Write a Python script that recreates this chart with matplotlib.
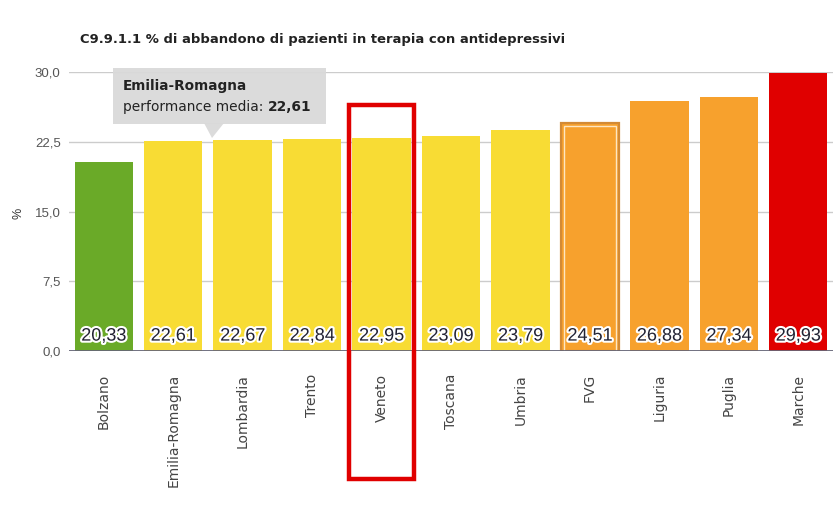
import matplotlib
matplotlib.use("Agg")
import matplotlib.pyplot as plt
import matplotlib.patheffects as pe
from matplotlib.patches import Rectangle, FancyBboxPatch, Polygon

plt.rcParams['font.family'] = ['Liberation Sans', 'DejaVu Sans']

regions = ["Bolzano", "Emilia-Romagna", "Lombardia", "Trento", "Veneto", "Toscana",
           "Umbria", "FVG", "Liguria", "Puglia", "Marche"]
values = [20.33, 22.61, 22.67, 22.84, 22.95, 23.09, 23.79, 24.51, 26.88, 27.34, 29.93]
colors = ["#6aaa28", "#f8dc34", "#f8dc34", "#f8dc34", "#f8dc34", "#f8dc34",
          "#f8dc34", "#f7a12d", "#f7a12d", "#f7a12d", "#e00000"]
labels = ["20,33", "22,61", "22,67", "22,84", "22,95", "23,09", "23,79", "24,51",
          "26,88", "27,34", "29,93"]
yticks = [0, 7.5, 15, 22.5, 30]
ytick_labels = ["0,0", "7,5", "15,0", "22,5", "30,0"]
title = "C9.9.1.1 % di abbandono di pazienti in terapia con antidepressivi"
highlight = "Veneto"
selected = "FVG"
tip_name = "Emilia-Romagna"
tip_label = "performance media: "
tip_value = "22,61"

W, H = 833, 513
fig = plt.figure(figsize=(W / 100, H / 100), dpi=100)
renderer = fig.canvas.get_renderer()

def fx(x):
    return x / W

def fy(y):
    return 1 - y / H

def fit(t, target_px):
    ext = t.get_window_extent(renderer)
    t.set_fontsize(t.get_fontsize() * target_px / ext.width)
    return t

ax = fig.add_axes([fx(69), fy(351), fx(833) - fx(69), fy(72) - fy(351)])
ax.set_xlim(-0.5, len(regions) - 0.5)
ax.set_ylim(0, 30)

for yv in yticks[1:]:
    ax.axhline(yv, color="#cccccc", lw=1, zorder=0)

x = list(range(len(regions)))
ax.bar(x, values, width=0.84, color=colors, zorder=2)

si = regions.index(selected)
ax.bar(si, values[si], width=0.84, color=colors[si], edgecolor="#d38a35", lw=1.6, zorder=3)
ax.bar(si, values[si] - 0.35, width=0.76, color="none", edgecolor="#fde6c2", lw=1.0, zorder=4)

ax.axhline(0, color="#667", lw=1.3, zorder=5)

for xi, lab in zip(x, labels):
    ax.text(xi, 1.6, lab, ha="center", va="center", fontsize=13, color="#222233",
            zorder=6, path_effects=[pe.withStroke(linewidth=3, foreground="white")])

ax.set_yticks(yticks)
ax.set_yticklabels(ytick_labels, fontsize=9.5, color="#555555")
ax.set_xticks(x)
ax.set_xticklabels(regions, rotation=90, fontsize=10, color="#444444",
                   family="DejaVu Sans")
ax.tick_params(axis="y", length=0, pad=6)
ax.tick_params(axis="x", length=0, pad=16.5)
for s in ax.spines.values():
    s.set_visible(False)

tt = fig.text(fx(80), fy(40), title, fontsize=10, fontweight="bold", color="#222222",
              ha="left", va="center", family="DejaVu Sans")
fit(tt, 485)
fig.text(fx(18), fy(213), "%", fontsize=9, color="#333333", rotation=90,
         ha="center", va="center")

# tooltip
tip = FancyBboxPatch((fx(113), fy(124)), fx(326) - fx(113), fy(68) - fy(124),
                     boxstyle="square,pad=0", transform=fig.transFigure,
                     facecolor="#d9d9d9", edgecolor="none", alpha=0.95, zorder=10)
fig.add_artist(tip)
ptr = Polygon([(fx(204), fy(123)), (fx(224), fy(123)), (fx(212), fy(138))],
              closed=True, transform=fig.transFigure, facecolor="#d9d9d9",
              edgecolor="none", alpha=0.95, zorder=10)
fig.add_artist(ptr)
t0 = fig.text(fx(123), fy(86), tip_name, fontsize=10, fontweight="bold",
              color="#222222", ha="left", va="center", zorder=11, family="DejaVu Sans")
fit(t0, 124)
t1 = fig.text(fx(123), fy(107), tip_label, fontsize=9.5,
              color="#222222", ha="left", va="center", zorder=11, family="DejaVu Sans")
t2 = fig.text(fx(123), fy(107), tip_value, fontsize=9.5, fontweight="bold",
              color="#222222", ha="left", va="center", zorder=11, family="DejaVu Sans")
w1 = t1.get_window_extent(renderer).width
w2 = t2.get_window_extent(renderer).width
scale = 190 / (w1 + w2)
t1.set_fontsize(9.5 * scale)
t2.set_fontsize(9.5 * scale)
w1 = t1.get_window_extent(renderer).width
t2.set_x(fx(123 + w1))

# highlight box around Veneto
box = Rectangle((fx(349), fy(479)), fx(414) - fx(349), fy(105) - fy(479),
                transform=fig.transFigure, facecolor="none", edgecolor="#e00000",
                lw=3.2, zorder=12)
fig.add_artist(box)

fig.savefig("out.png", dpi=100)
